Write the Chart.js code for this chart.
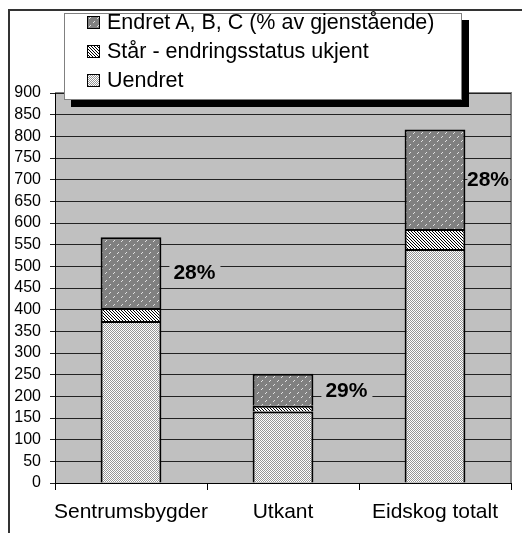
<!DOCTYPE html>
<html>
<head>
<meta charset="utf-8">
<script src="https://cdn.jsdelivr.net/npm/chart.js@4"></script>
<style>
  body { margin: 0; background: #fff; }
  #wrap { position: relative; width: 522px; height: 533px; font-family: "Liberation Sans", Arial, sans-serif; }
  #frame { position: absolute; left: 8px; top: 9px; width: 540px; height: 560px; border-top: 2px solid #333; border-left: 2px solid #333; }
  #chart { position: absolute; left: 0; top: 0; }
  #legend { position: absolute; left: 64px; top: 13px; width: 396px; height: 85px; background: #fff; border: 1px solid #808080; box-shadow: 7px 7px 0 #000; }
  .item { position: absolute; left: 22px; font-size: 21.5px; line-height: 22px; color: #000; white-space: nowrap; }
  .sw { display: inline-block; width: 11px; height: 11px; border: 1px solid #000; margin-right: 7px; vertical-align: 0px; }
</style>
</head>
<body>
<div id="wrap">
  <div id="frame"></div>
  <canvas id="chart" width="522" height="533"></canvas>
  <div id="legend"></div>
</div>
<script>
  // data
  const kategorier = ['Sentrumsbygder', 'Utkant', 'Eidskog totalt'];
  const uendret = [374, 165, 540];
  const staar = [30, 13, 46];
  const endret = [163, 74, 230];
  const prosent = ['28%', '29%', '28%'];
  const serieNavn = ['Endret A, B, C (% av gjenstående)', 'Står - endringsstatus ukjent', 'Uendret'];

  // small pixel patterns like the excel fills
  function lagMonster(w, h, farge) {
    const c = document.createElement('canvas');
    c.width = w; c.height = h;
    const g = c.getContext('2d');
    const img = g.createImageData(w, h);
    for (let y = 0; y < h; y++) {
      for (let x = 0; x < w; x++) {
        const v = farge(x, y);
        const i = (y * w + x) * 4;
        img.data[i] = v; img.data[i + 1] = v; img.data[i + 2] = v; img.data[i + 3] = 255;
      }
    }
    g.putImageData(img, 0, 0);
    return c;
  }

  const tileEndret = lagMonster(8, 8, function (x, y) {
    if ((x === 2 && y === 0) || (x === 1 && y === 1) || (x === 6 && y === 4) || (x === 5 && y === 5)) return 225;
    return 128;
  });
  const tileStaar = lagMonster(3, 3, function (x, y) {
    return ((x - y + 6) % 3) === 0 ? 0 : 255;
  });
  const tileUendret = lagMonster(2, 2, function (x, y) {
    return (x + y) % 2 === 0 ? 150 : 255;
  });

  const ctx = document.getElementById('chart').getContext('2d');
  const pEndret = ctx.createPattern(tileEndret, 'repeat');
  const pStaar = ctx.createPattern(tileStaar, 'repeat');
  const pUendret = ctx.createPattern(tileUendret, 'repeat');

  // legend (html)
  const legendTiles = [tileEndret, tileStaar, tileUendret];
  const legendTop = [-3, 26, 55];
  let html = '';
  serieNavn.forEach((navn, i) => {
    html += `<div class="item" style="top:${legendTop[i]}px"><span class="sw" style="background-image:url(${legendTiles[i].toDataURL()})"></span>${navn}</div>`;
  });
  document.getElementById('legend').innerHTML = html;

  const bakgrunn = {
    id: 'bakgrunn',
    beforeDraw(chart) {
      const a = chart.chartArea;
      const c = chart.ctx;
      c.save();
      c.fillStyle = '#c0c0c0';
      c.fillRect(a.left, a.top, a.right - a.left, a.bottom - a.top);
      c.strokeStyle = '#808080';
      c.lineWidth = 2;
      c.beginPath();
      c.moveTo(a.left, a.top);
      c.lineTo(a.right, a.top);
      c.lineTo(a.right, a.bottom);
      c.stroke();
      c.restore();
    }
  };

  const prosentEtiketter = {
    id: 'prosentEtiketter',
    afterDatasetsDraw(chart) {
      const c = chart.ctx;
      const a = chart.chartArea;
      const meta = chart.getDatasetMeta(2);
      c.save();
      c.font = 'bold 21px "Liberation Sans", Arial, sans-serif';
      c.textBaseline = 'middle';
      c.textAlign = 'left';
      meta.data.forEach((bar, i) => {
        const w = c.measureText(prosent[i]).width;
        const tx = Math.min(bar.x + bar.width / 2 + 12, a.right - 2 - w);
        const ty = (bar.y + bar.base) / 2 + 1;
        const boksV = Math.max(bar.x + bar.width / 2 + 2, tx - 4);
        c.fillStyle = '#c0c0c0';
        c.fillRect(boksV, ty - 14, Math.min(tx + w + 5, a.right - 1) - boksV, 28);
        c.fillStyle = '#000';
        c.fillText(prosent[i], tx, ty);
      });
      c.restore();
    }
  };

  new Chart(ctx, {
    type: 'bar',
    data: {
      labels: kategorier,
      datasets: [
        { label: serieNavn[2], data: uendret, backgroundColor: pUendret, borderColor: '#000', borderWidth: 2 },
        { label: serieNavn[1], data: staar, backgroundColor: pStaar, borderColor: '#000', borderWidth: 2 },
        { label: serieNavn[0], data: endret, backgroundColor: pEndret, borderColor: '#000', borderWidth: 2 },
      ],
    },
    options: {
      responsive: false,
      animation: false,
      devicePixelRatio: 1,
      layout: { padding: { top: 93, right: 11, left: 0, bottom: 0 } },
      datasets: { bar: { barPercentage: 0.4, categoryPercentage: 1 } },
      plugins: { legend: { display: false }, tooltip: { enabled: false } },
      scales: {
        x: {
          stacked: true,
          afterFit(scale) { scale.height = 50; },
          grid: { offset: true, drawOnChartArea: false, color: '#000', tickLength: 7 },
          border: { color: '#000', width: 1 },
          ticks: {
            autoSkip: false,
            color: '#000',
            padding: 10,
            maxRotation: 0,
            font: { family: '"Liberation Sans", Arial, sans-serif', size: 21 },
          },
        },
        y: {
          stacked: true,
          min: 0,
          max: 900,
          afterFit(scale) { scale.width = 55; },
          grid: { color: '#222', tickLength: 5 },
          border: { color: '#000', width: 1 },
          ticks: {
            autoSkip: false,
            stepSize: 50,
            color: '#000',
            padding: 9,
            font: { family: '"Liberation Sans", Arial, sans-serif', size: 16 },
          },
        },
      },
    },
    plugins: [bakgrunn, prosentEtiketter],
  });
</script>
</body>
</html>
